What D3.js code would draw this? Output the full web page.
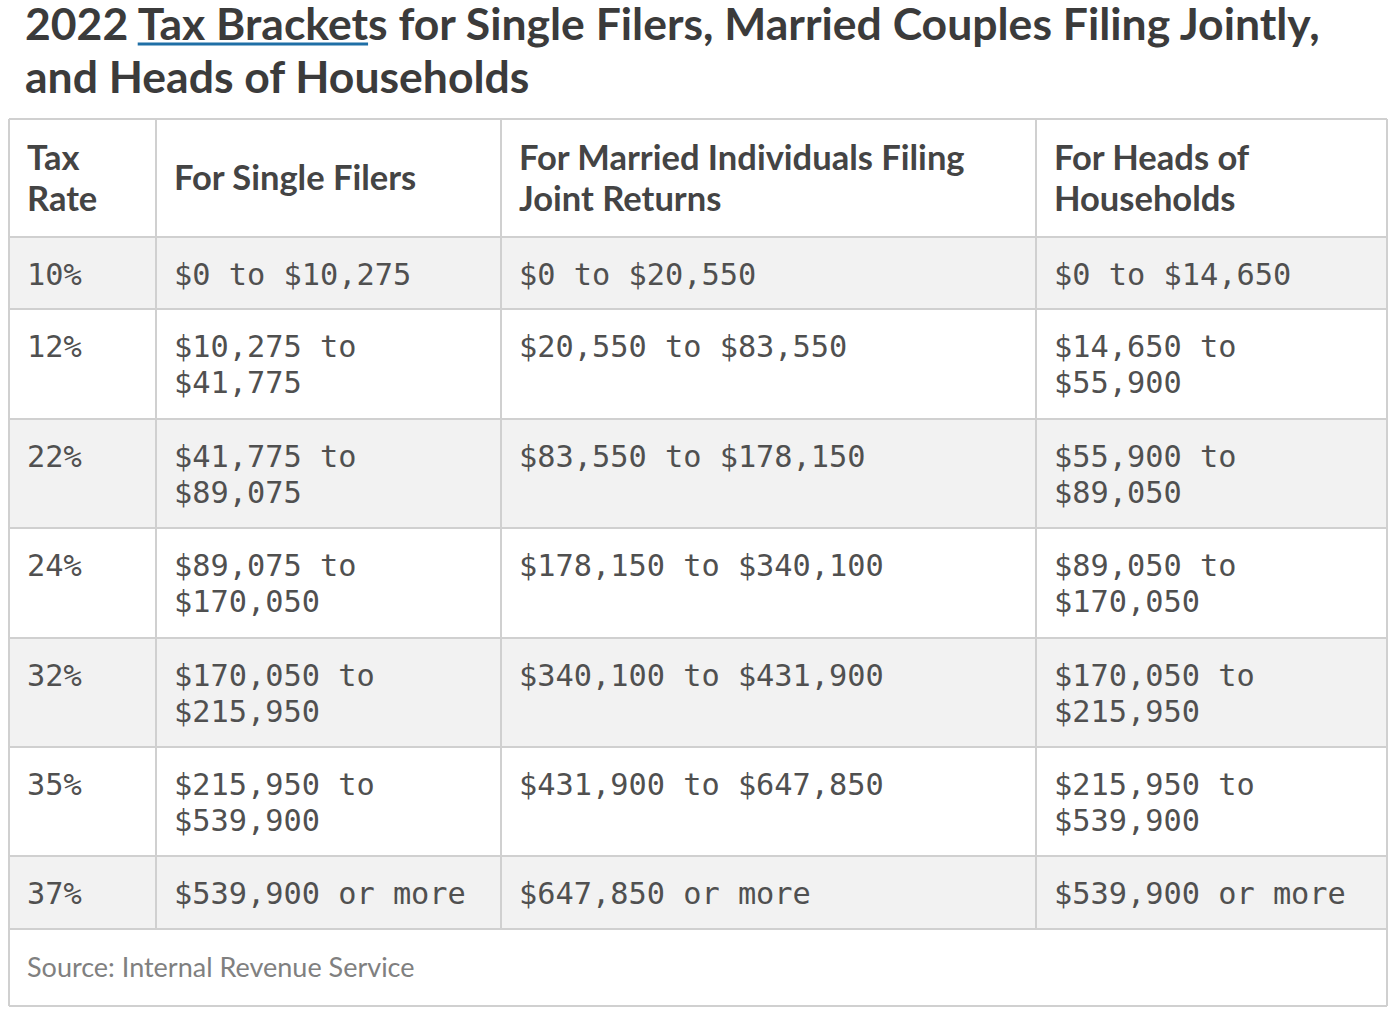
<!DOCTYPE html>
<html><head><meta charset="utf-8">
<script src="https://cdn.jsdelivr.net/npm/d3@7"></script>
<style>body{margin:0;background:#fff}</style>
</head><body>
<svg id="chart" width="1392" height="1012"></svg>
<script>
var headers = ['Tax Rate', 'For Single Filers', 'For Married Individuals Filing Joint Returns', 'For Heads of Households'];
var rates = ['10%', '12%', '22%', '24%', '32%', '35%', '37%'];
var single = ['$0 to $10,275', '$10,275 to $41,775', '$41,775 to $89,075', '$89,075 to $170,050', '$170,050 to $215,950', '$215,950 to $539,900', '$539,900 or more'];
var married = ['$0 to $20,550', '$20,550 to $83,550', '$83,550 to $178,150', '$178,150 to $340,100', '$340,100 to $431,900', '$431,900 to $647,850', '$647,850 or more'];
var heads = ['$0 to $14,650', '$14,650 to $55,900', '$55,900 to $89,050', '$89,050 to $170,050', '$170,050 to $215,950', '$215,950 to $539,900', '$539,900 or more'];
var source = 'Source: Internal Revenue Service';

var svg = d3.select('#chart'),
    colX = [9, 156, 501, 1036, 1387],
    rowY = [119, 237, 309, 419, 528, 638, 747, 856, 929, 1006],
    pad = 18,
    border = '#d0d0d0';

// title
var title = svg.append('g').style('font-family', 'Lato').style('font-weight', 'bold')
  .style('font-size', '44.5px').attr('fill', '#3b3b3b');
var t1 = title.append('text').attr('x', 25).attr('y', 40);
t1.append('tspan').text('2022 ');
t1.append('tspan').text('Tax Bracket');
t1.append('tspan').text('s for Single Filers, Married Couples Filing Jointly,');
title.append('text').attr('x', 25).attr('y', 93).text('and Heads of Households');
var pre = t1.node().getSubStringLength(0, 5),
    ulw = t1.node().getSubStringLength(5, 11);
svg.append('line').attr('x1', 25 + pre).attr('x2', 25 + pre + ulw)
  .attr('y1', 44).attr('y2', 44).attr('stroke', '#1f6fa6').attr('stroke-width', 3);

// row backgrounds
var rows = rates.map(function(r, i) { return [r, single[i], married[i], heads[i]]; });
svg.selectAll('rect.bg').data(rowY.slice(0, -1)).enter().append('rect')
  .attr('x', colX[0]).attr('width', colX[4] - colX[0])
  .attr('y', function(d) { return d; })
  .attr('height', function(d, i) { return rowY[i + 1] - d; })
  .attr('fill', function(d, i) { return (i >= 1 && i <= 7 && i % 2 === 1) ? '#f2f2f2' : '#fff'; });

function wrap(textSel, str, width) {
  var words = str.split(' '), line = [], lines = [];
  var tmp = textSel.append('tspan');
  words.forEach(function(w) {
    var test = line.concat([w]).join(' ');
    tmp.text(test);
    if (tmp.node().getComputedTextLength() > width && line.length) {
      lines.push(line.join(' '));
      line = [w];
    } else line.push(w);
  });
  lines.push(line.join(' '));
  tmp.remove();
  return lines;
}

// header
headers.forEach(function(h, c) {
  var t = svg.append('text').style('font-family', 'Lato').style('font-weight', 'bold')
    .style('font-size', '34.5px').attr('fill', '#444');
  var lines = wrap(t, h, colX[c + 1] - colX[c] - 2 * pad);
  var mid = (rowY[0] + rowY[1]) / 2, y0 = mid - (lines.length - 1) * 41 / 2 + 12;
  lines.forEach(function(l, k) {
    t.append('tspan').attr('x', colX[c] + pad).attr('y', y0 + k * 41).text(l);
  });
});

// body
rows.forEach(function(r, i) {
  r.forEach(function(cell, c) {
    var t = svg.append('text').style('font-family', 'DejaVu Sans Mono')
      .style('font-size', '30.3px').attr('fill', '#505050');
    var lines = wrap(t, cell, colX[c + 1] - colX[c] - 2 * pad);
    lines.forEach(function(l, k) {
      t.append('tspan').attr('x', colX[c] + pad).attr('y', rowY[i + 1] + 48 + k * 36).text(l);
    });
  });
});

// source
svg.append('text').attr('x', 27).attr('y', 977).style('font-family', 'Lato')
  .style('font-size', '27px').attr('fill', '#808080').text(source);

// grid lines
svg.selectAll('line.h').data(rowY).enter().append('line')
  .attr('x1', colX[0]).attr('x2', colX[4])
  .attr('y1', function(d) { return d; }).attr('y2', function(d) { return d; })
  .attr('stroke', border).attr('stroke-width', 2);
svg.selectAll('line.v').data(colX).enter().append('line')
  .attr('x1', function(d) { return d; }).attr('x2', function(d) { return d; })
  .attr('y1', rowY[0])
  .attr('y2', function(d, i) { return (i === 0 || i === 4) ? rowY[9] : rowY[8]; })
  .attr('stroke', border).attr('stroke-width', 2);
</script>
</body></html>
